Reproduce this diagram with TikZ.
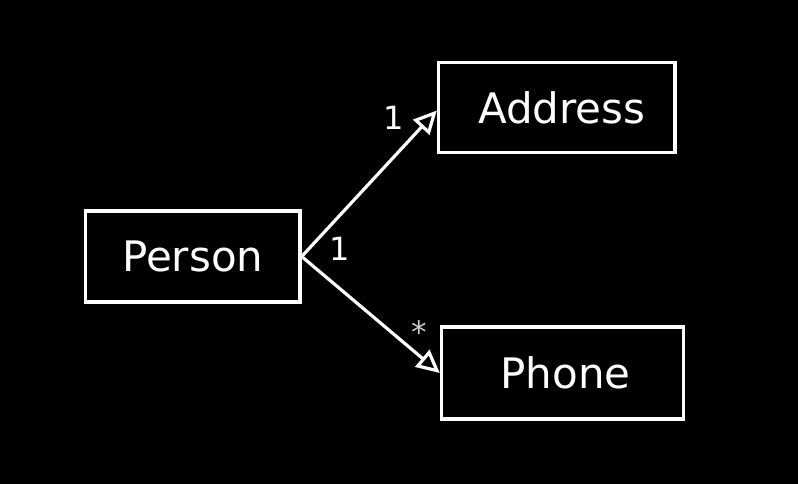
\documentclass[tikz,border=0pt]{standalone}
\usepackage{fontspec}
\setmainfont{DejaVu Sans}
\usetikzlibrary{arrows.meta}
\begin{document}
\begin{tikzpicture}[x=0.5pt,y=-0.5pt,
  cls/.style={draw=white,line width=1.7pt,text=white,inner sep=0pt,
    font=\fontsize{21}{24}\selectfont},
  assoc/.style={draw=white,line width=1.6pt,
    -{Triangle[open,length=11.5pt,width=11pt,line width=1.6pt]}},
  mult/.style={text=white,inner sep=0pt,font=\fontsize{16}{18}\selectfont},
  star/.style={text=white!80!black,inner sep=0pt,font=\fontsize{15.5}{18}\selectfont}]
\fill[black] (0,0) rectangle (798,484);
\useasboundingbox (0,0) rectangle (798,484);
\node[cls,minimum width=107.25pt,minimum height=45.5pt] (person) at (192.75,256.5) {Person};
\node[cls,minimum width=118.25pt,minimum height=45pt,text width=118.25pt,align=center] (address) at (556.75,107.5) {\hspace*{5pt}Address};
\node[cls,minimum width=121pt,minimum height=46pt,text width=121pt,align=center] (phone) at (562.5,373) {\hspace*{3pt}Phone};
\draw[assoc] (person.east) -- ([yshift=-1.5pt]address.west);
\draw[assoc] (person.east) -- (phone.west);
\node[mult] (m1) at (394,118) {1};
\node[mult] (m2) at (340,249) {1};
\node[star] (m3) at (419,332) {*};
\end{tikzpicture}
\end{document}
